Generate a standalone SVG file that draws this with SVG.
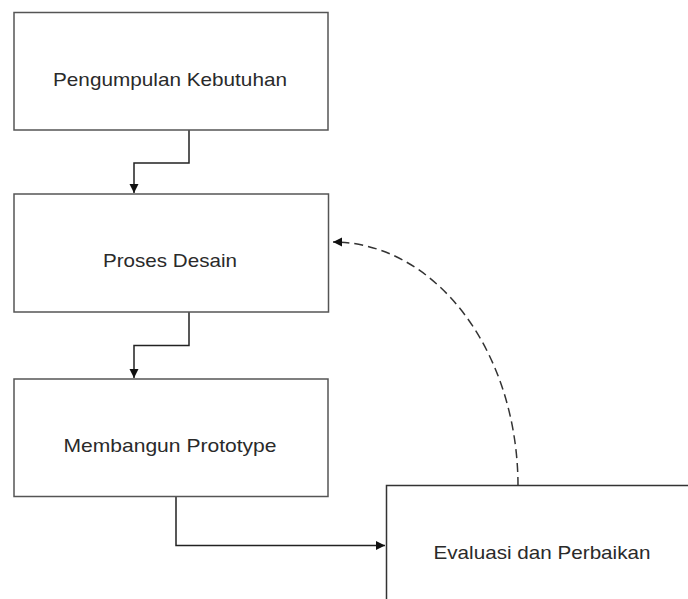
<svg xmlns="http://www.w3.org/2000/svg" width="688" height="599" viewBox="0 0 688 599">
<defs>
<marker id="ah" markerWidth="10" markerHeight="10" refX="9" refY="5" orient="auto" markerUnits="userSpaceOnUse">
<path d="M0,0.5 L9,5 L0,9.5 Z" fill="#111"/>
</marker>
<style>
.box{fill:#fff;stroke:#555;stroke-width:1.5}
.lbl{font-family:"Liberation Sans",Arial,sans-serif;font-size:19px;fill:#2a2a2a;text-anchor:middle}
.con{fill:none;stroke:#222;stroke-width:1.5}
.dash{fill:none;stroke:#333;stroke-width:1.5;stroke-dasharray:9,5}
</style>
</defs>
<rect width="688" height="599" fill="#fff"/>
<g id="connectors">
<path class="con" d="M189,130 V163 H134 V193" marker-end="url(#ah)"/>
<path class="con" d="M189,312 V345.5 H134 V378" marker-end="url(#ah)"/>
<path class="con" d="M176,497 V545.5 H385" marker-end="url(#ah)"/>
<path class="dash" d="M518,486 A185,244 0 0 0 333,242" marker-end="url(#ah)"/>
</g>
<g id="node1">
<rect class="box" x="14" y="12.5" width="314" height="117.5"/>
<text class="lbl" x="170" y="86" textLength="234" lengthAdjust="spacingAndGlyphs">Pengumpulan Kebutuhan</text>
</g>
<g id="node2">
<rect class="box" x="14" y="194" width="314.5" height="118"/>
<text class="lbl" x="170" y="266.5" textLength="134" lengthAdjust="spacingAndGlyphs">Proses Desain</text>
</g>
<g id="node3">
<rect class="box" x="14" y="379" width="314" height="117.5"/>
<text class="lbl" x="170" y="452" textLength="213" lengthAdjust="spacingAndGlyphs">Membangun Prototype</text>
</g>
<g id="node4">
<rect class="box" style="stroke:#333" x="386.5" y="485.5" width="315" height="118"/>
<text class="lbl" x="542" y="559" textLength="217" lengthAdjust="spacingAndGlyphs">Evaluasi dan Perbaikan</text>
</g>
</svg>
